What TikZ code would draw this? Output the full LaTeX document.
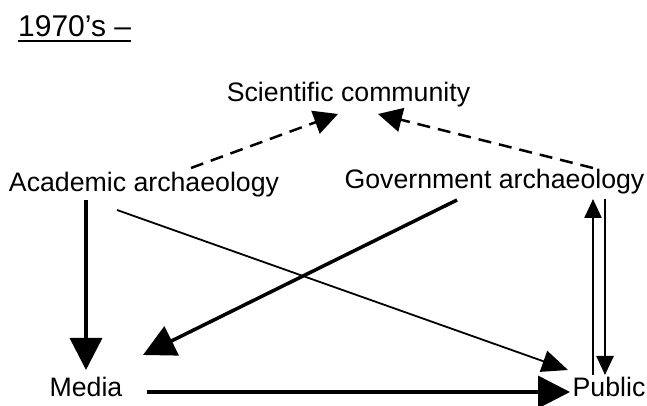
\documentclass[tikz,border=0pt]{standalone}
\usepackage{fontspec}
\setmainfont{Liberation Sans}
\usetikzlibrary{arrows.meta,calc}
\begin{document}
\begin{tikzpicture}[x=1pt,y=1pt,
  lbl/.style={inner sep=0pt, anchor=base, font=\fontsize{26.7}{30}\selectfont},
  thick arr/.style={line width=3.5pt, -{Triangle[length=32pt,width=32pt]}},
  thin arr/.style={line width=1.8pt, -{Triangle[length=26pt,width=22pt]}},
  dash arr/.style={line width=2.5pt, dash pattern=on 13pt off 8pt, -{Triangle[length=24pt,width=24pt]}},
  vert arr/.style={line width=2.5pt, -{Triangle[length=19pt,width=17pt]}}]
\useasboundingbox (0,0) rectangle (647,406);
\node[inner sep=0pt, anchor=base west, font=\fontsize{30}{34}\selectfont] (title) at (18,369) {1970’s –};
\draw[line width=1.6pt] ($(title.base west)+(0,-4)$) coordinate (ul) -- ($(title.base east)+(0,-4)$);
\node[lbl] (sci) at (348.5,304) {Scientific community};
\node[lbl] (acad) at (144,214) {Academic archaeology};
\node[lbl] (gov) at (494.5,217) {Government archaeology};
\node[lbl] (media) at (86,9) {Media};
\node[lbl] (public) at (609,9) {Public};
% dashed to scientific community
\draw[dash arr] ($(acad.base)+(47,24)$) -- ($(sci.base)+(-10.5,-12)$);
\draw[dash arr] ($(gov.base)+(98.5,21)$) -- ($(sci.base)+(29.5,-12)$);
% academic to media
\draw[thick arr] ($(acad.base)+(-58,-8)$) -- ($(media.base)+(0,27)$);
% government to media
\draw[thick arr] ($(gov.base)+(-37.5,-11)$) -- ($(media.base)+(57,42)$);
% academic to public
\draw[thin arr] ($(acad.base)+(-27,-18)$) -- ($(public.base)+(-41,27)$);
% media to public
\draw[thick arr] ($(media.base)+(61,5)$) -- ($(public.base)+(-39,5)$);
% public <-> government
\draw[vert arr] ($(public.base)+(-16,22)$) -- ($(gov.base)+(98.5,-10)$);
\draw[vert arr] ($(gov.base)+(110.5,-10)$) -- ($(public.base)+(-4,22)$);
\end{tikzpicture}
\end{document}
